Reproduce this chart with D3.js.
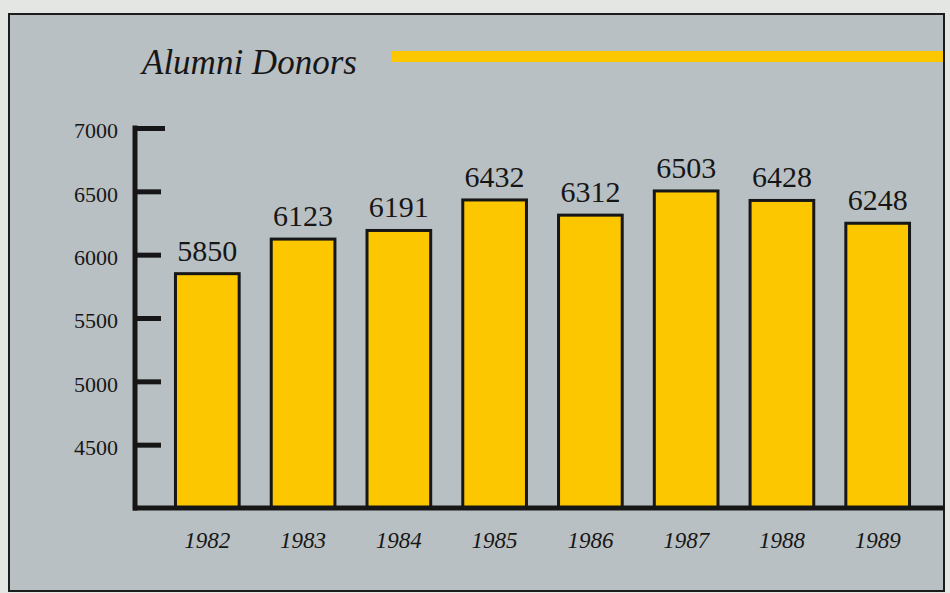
<!DOCTYPE html>
<html>
<head>
<meta charset="utf-8">
<script src="https://cdn.jsdelivr.net/npm/d3@7"></script>
<style>
  html, body { margin: 0; padding: 0; background: #e3e6e3; }
  svg { display: block; }
</style>
</head>
<body>
<script>
// Data
const years = ["1982", "1983", "1984", "1985", "1986", "1987", "1988", "1989"];
const donors = [5850, 6123, 6191, 6432, 6312, 6503, 6428, 6248];
const yTicks = [4500, 5000, 5500, 6000, 6500, 7000];
const title = "Alumni Donors";

const width = 950, height = 593;
const yellow = "#fdc700", ink = "#161616";

let svg = d3.select("body").append("svg")
    .attr("width", width)
    .attr("height", height);

// Panel with its frame
svg.append("rect")
    .attr("x", 9).attr("y", 14)
    .attr("width", 935).attr("height", 577)
    .attr("fill", "#b9c0c3")
    .attr("stroke", "#1c1c1c")
    .attr("stroke-width", 2);

// Title and the yellow rule beside it
svg.append("text")
    .attr("x", 142).attr("y", 74)
    .attr("font-family", "Liberation Serif, serif")
    .attr("font-style", "italic")
    .attr("font-size", 35)
    .attr("fill", ink)
    .text(title);

svg.append("rect")
    .attr("x", 392).attr("y", 51)
    .attr("width", 551).attr("height", 11)
    .attr("fill", yellow);

// Scales
let x = d3.scaleBand()
    .domain(years)
    .range([141, 944])
    .paddingInner(0.335)
    .paddingOuter(0.36);

let y = d3.scaleLinear()
    .domain([4000, 7000])
    .range([508, 128]);

// Bars
svg.append("g")
  .selectAll("rect")
  .data(donors)
  .join("rect")
    .attr("x", (d, i) => x(years[i]))
    .attr("y", d => y(d))
    .attr("width", x.bandwidth())
    .attr("height", d => y(4000) - y(d))
    .attr("fill", yellow)
    .attr("stroke", ink)
    .attr("stroke-width", 3);

// Value labels above the bars
svg.append("g")
  .selectAll("text")
  .data(donors)
  .join("text")
    .attr("x", (d, i) => x(years[i]) + x.bandwidth() / 2)
    .attr("y", d => y(d) - 13)
    .attr("text-anchor", "middle")
    .attr("font-family", "Liberation Serif, serif")
    .attr("font-size", 30)
    .attr("fill", ink)
    .text(d => d);

// Y axis: thick spine with heavy ticks, labels to the left
let yAxis = svg.append("g")
    .attr("transform", "translate(135,0)")
    .call(d3.axisLeft(y).tickValues(yTicks).tickFormat(d3.format("d"))
      .tickSize(0).tickPadding(17));
yAxis.select(".domain").remove();
yAxis.selectAll(".tick text")
    .attr("font-family", "Liberation Serif, serif")
    .attr("font-size", 22)
    .attr("fill", ink)
    .attr("dy", "0.45em");
yAxis.selectAll(".tick line")
    .attr("x1", 0)
    .attr("x2", d => d === 7000 ? 30 : 26)
    .attr("stroke", ink)
    .attr("stroke-width", 5);
yAxis.append("line")
    .attr("x1", 0).attr("x2", 0)
    .attr("y1", y(7000) - 2.5).attr("y2", y(4000) + 2.5)
    .attr("stroke", ink)
    .attr("stroke-width", 5);

// X axis: baseline with italic year labels
let xAxis = svg.append("g")
    .attr("transform", "translate(0," + y(4000) + ")")
    .call(d3.axisBottom(x).tickSize(0).tickPadding(24));
xAxis.select(".domain").remove();
xAxis.selectAll(".tick text")
    .attr("font-family", "Liberation Serif, serif")
    .attr("font-style", "italic")
    .attr("font-size", 23)
    .attr("fill", ink);
xAxis.append("line")
    .attr("x1", 133).attr("x2", 944)
    .attr("y1", 0).attr("y2", 0)
    .attr("stroke", ink)
    .attr("stroke-width", 5);
</script>
</body>
</html>
